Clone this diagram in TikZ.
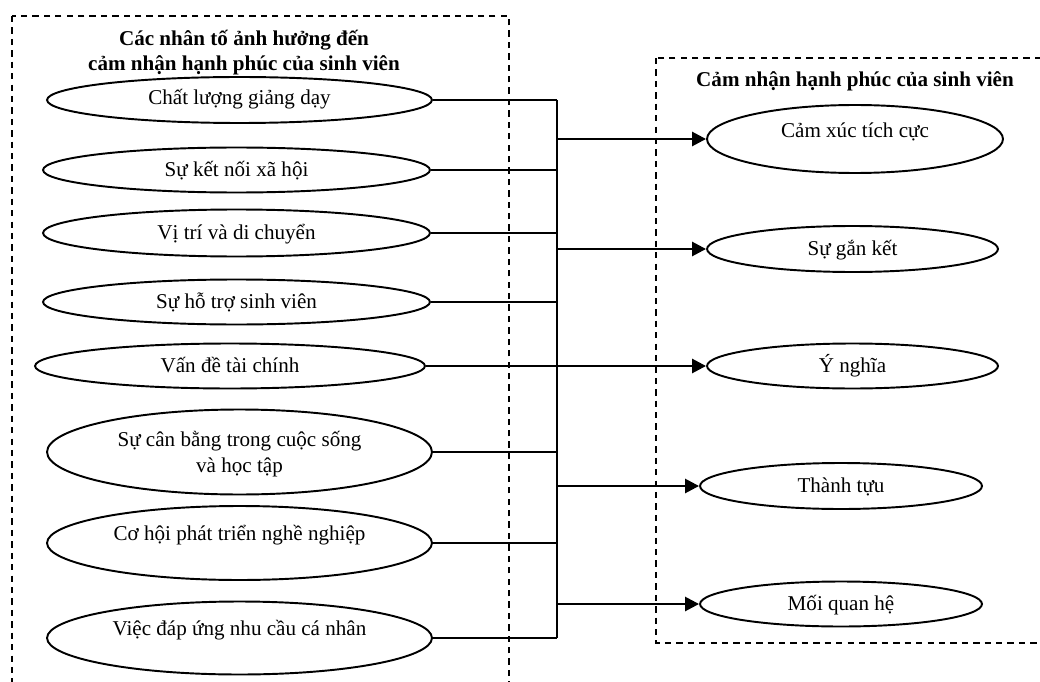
\documentclass[tikz,border=0pt]{standalone}
\usepackage{fontspec}
\setmainfont{Liberation Serif}
\usetikzlibrary{positioning,arrows.meta,shapes.geometric}

\begin{document}
\begin{tikzpicture}[x=0.02cm,y=-0.02cm,font=\fontsize{12}{14.5}\selectfont,
  fbox/.style={draw,dashed,dash pattern=on 3.6pt off 2.9pt,line width=0.8pt},
  factor/.style={draw,ellipse,line width=1.1pt,inner sep=0pt,text height=10pt,text depth=3pt,align=center},
  outcome/.style={draw,ellipse,line width=1.1pt,inner sep=0pt,text height=10pt,text depth=3pt},
  lift/.style={text depth=#1},
  link/.style={line width=1.1pt},
  arr/.style={line width=1.5pt,-{Triangle[length=0.28cm,width=0.28cm]}}]

  \useasboundingbox (0,0) rectangle (1040,682);
  \clip (0,0) rectangle (1040,682);

  % dashed frames
  \draw[fbox] (12,16) rectangle (509,720);
  \draw[fbox] (656,58) rectangle (1080,643);

  \node[font=\fontsize{12}{14.5}\selectfont\bfseries,align=center,anchor=base] (ltitle) at (244,71)
    {Các nhân tố ảnh hưởng đến\\cảm nhận hạnh phúc của sinh viên};
  \node[font=\fontsize{12}{14.5}\selectfont\bfseries] (rtitle) at (855,81)
    {Cảm nhận hạnh phúc của sinh viên};

  % factors on the left
  \node[factor,minimum width=7.7cm,minimum height=0.92cm,lift=5pt] (f1) at (239.5,100) {Chất lượng giảng dạy};
  \node[factor,minimum width=7.74cm,minimum height=0.9cm] (f2) at (236.5,170) {Sự kết nối xã hội};
  \node[factor,minimum width=7.74cm,minimum height=0.94cm] (f3) at (236.5,233) {Vị trí và di chuyển};
  \node[factor,minimum width=7.74cm,minimum height=0.9cm] (f4) at (236.5,302) {Sự hỗ trợ sinh viên};
  \node[factor,minimum width=7.8cm,minimum height=0.9cm] (f5) at (230,366) {Vấn đề tài chính};
  \node[factor,minimum width=7.7cm,minimum height=1.7cm,text height=26pt] (f6) at (239.5,452)
    {Sự cân bằng trong cuộc sống\\và học tập};
  \node[factor,minimum width=7.7cm,minimum height=1.48cm,lift=13pt] (f7) at (239.5,543) {Cơ hội phát triển nghề nghiệp};
  \node[factor,minimum width=7.7cm,minimum height=1.46cm,lift=13pt] (f8) at (239.5,638) {Việc đáp ứng nhu cầu cá nhân};

  % outcomes on the right
  \node[outcome,minimum width=5.92cm,minimum height=1.36cm,lift=12pt] (o1) at (855,139) {Cảm xúc tích cực};
  \node[outcome,minimum width=5.82cm,minimum height=0.92cm] (o2) at (852.5,249) {Sự gắn kết};
  \node[outcome,minimum width=5.82cm,minimum height=0.9cm] (o3) at (852.5,366) {Ý nghĩa};
  \node[outcome,minimum width=5.64cm,minimum height=0.92cm] (o4) at (841,486) {Thành tựu};
  \node[outcome,minimum width=5.64cm,minimum height=0.9cm] (o5) at (841,604) {Mối quan hệ};

  % collecting line
  \coordinate (bus) at (557,0);
  \foreach \f in {f1,f2,f3,f4,f5,f6,f7,f8}
    \draw[link] (\f.east) -- (\f.east -| bus);
  \draw[link] (f1.east -| bus) -- (f8.east -| bus);

  % arrows to the outcomes
  \foreach \o in {o1,o2,o3,o4,o5}
    \draw[arr] (\o.west -| bus) -- (\o.west);

\end{tikzpicture}
\end{document}
